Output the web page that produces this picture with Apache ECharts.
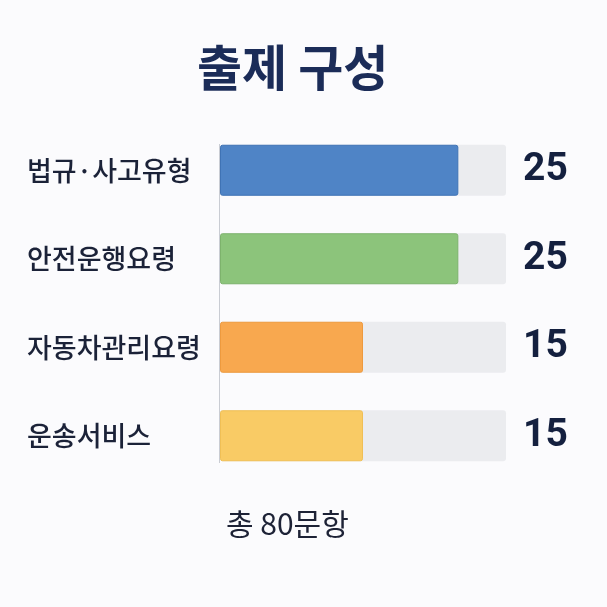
<!DOCTYPE html>
<html><head><meta charset="utf-8">
<script src="https://cdn.jsdelivr.net/npm/echarts@6/dist/echarts.min.js"></script>
<style>html,body{margin:0;padding:0;background:#fbfbfd;}#c{width:607px;height:607px;}</style>
</head><body><div id="c"></div>
<script>
const titleText = '출제 구성';
const footerText = '총 80문항';
const categories = ['법규·사고유형', '안전운행요령', '자동차관리요령', '운송서비스'];
const values = [25, 25, 15, 15];
const colors = ['#4f84c6', '#8cc47b', '#f8a84f', '#f9cb65'];
const borderColors = ['#3f73b5', '#7db36c', '#ee9a3e', '#f0bf55'];
const axisMax = 30;
const trackValues = categories.map(() => axisMax);

const chart = echarts.init(document.getElementById('c'));
const font = '"Noto Sans CJK KR", "Noto Sans", sans-serif';
chart.setOption({
  backgroundColor: '#fbfbfd',
  animation: false,
  title: [
    { text: titleText, left: 192, top: 38,
      textStyle: { fontFamily: font, fontSize: 49, fontWeight: 'bold', color: '#1b2c58' } },
    { text: footerText, left: 221, top: 504,
      textStyle: { fontFamily: font, fontSize: 30, fontWeight: 'normal', color: '#1d2236' } }
  ],
  grid: { left: 220, right: 101, top: 126, bottom: 127 },
  xAxis: { type: 'value', min: 0, max: axisMax, show: false },
  yAxis: {
    type: 'category', data: categories, inverse: true,
    axisLine: { show: false }, axisTick: { show: false },
    axisLabel: { margin: 193, align: 'left', fontFamily: font, fontSize: 27, fontWeight: 500, color: '#1b2238' }
  },
  series: [
    {
      type: 'bar', data: trackValues, barWidth: 51, barGap: '-100%', silent: true, z: 1,
      itemStyle: { color: '#ebecef', borderRadius: 3 },
      label: {
        show: true, position: 'right', distance: 17,
        formatter: p => String(values[p.dataIndex]),
        fontFamily: 'Roboto, sans-serif', fontSize: 39, fontWeight: 'bold', color: '#14203f'
      }
    },
    {
      type: 'bar', barWidth: 51, z: 2,
      data: values.map((v, i) => ({ value: v, itemStyle: { color: colors[i], borderColor: borderColors[i], borderWidth: 1 } })),
      itemStyle: { borderRadius: 2 }
    }
  ],
  graphic: [
    { type: 'line', shape: { x1: 219.5, y1: 144, x2: 219.5, y2: 463 }, style: { stroke: '#c9ccd3', lineWidth: 1 }, z: 0 }
  ]
});
</script></body></html>
